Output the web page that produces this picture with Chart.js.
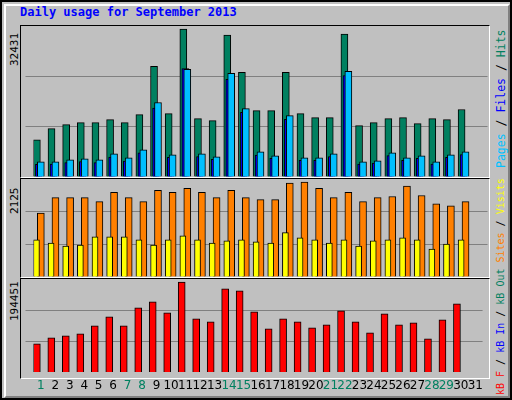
<!DOCTYPE html>
<html><head><meta charset="utf-8">
<script src="https://cdn.jsdelivr.net/npm/chart.js@4"></script>
<style>
body{margin:0;background:#fff;}
#frame{position:absolute;left:0;top:0;width:512px;height:400px;background:#c0c0c0;box-sizing:border-box;border:2px solid #000;}
#inner{position:absolute;left:2px;top:2px;width:506px;height:394px;border-top:2px solid #fff;border-left:2px solid #fff;border-right:2px solid #808080;border-bottom:2px solid #808080;box-sizing:border-box;}
.title{position:absolute;left:20px;top:5px;font:bold 12px "DejaVu Sans Mono",monospace;color:#0000ff;}
.box{position:absolute;left:20px;width:470px;border:1px solid #000;border-right-color:#fff;border-bottom-color:#fff;box-sizing:border-box;}
canvas{position:absolute;}
.rl{position:absolute;font:11px "DejaVu Sans Mono",monospace;white-space:nowrap;transform-origin:0 0;transform:rotate(-90deg);}
.yl{position:absolute;font:11px "DejaVu Sans Mono",monospace;color:#000;transform-origin:0 0;transform:rotate(-90deg);white-space:nowrap;}
</style></head><body>
<div id="frame"><div id="inner"></div></div>
<div class="title">Daily usage for September 2013</div>
<div class="box" style="top:25px;height:153px"></div>
<div class="box" style="top:178px;height:100px"></div>
<div class="box" style="top:278px;height:101px"></div>
<canvas id="c1" style="left:21px;top:26px"></canvas>
<canvas id="c2" style="left:21px;top:179px"></canvas>
<canvas id="c3" style="left:21px;top:279px"></canvas>
<div class="yl" style="left:8px;top:66px">32431</div>
<div class="yl" style="left:8px;top:214px">2125</div>
<div class="yl" style="left:8px;top:321px">194451</div>
<div class="rl" style="left:494px;top:168px;font-size:11.5px"><span style="color:#00c0ff">Pages</span> / <span style="color:#0000ff">Files</span> / <span style="color:#008060">Hits</span></div>
<div class="rl" style="left:495px;top:395px;font-size:10px"><span style="color:#ff0000">kB F</span> / <span style="color:#0000ff">kB In</span> / <span style="color:#008060">kB Out</span> <span style="color:#ff8000">Sites</span> / <span style="color:#ffff00">Visits</span></div>
<script>
const days = Array.from({length:31},(_, i)=>i+1);
const weekend = [1,7,8,14,15,21,22,28,29];
const hits  = [8000,10380,11240,11675,11675,12320,11675,13400,23780,13620,31780,12540,12110,30480,22480,14270,14270,22480,13620,12760,12760,30700,11030,11675,12540,12760,11460,12540,12320,14490,0];
const files = [2700,2800,3100,3300,3100,4300,3400,5200,14800,4200,23300,4400,3800,21000,13900,4700,4000,12400,3600,3600,4400,21800,2800,3000,4600,3600,4000,2800,4200,4800,0];
const pages = [3240,3240,3680,3890,3680,4970,4110,5840,16000,4760,23130,4970,4320,22270,14700,5400,4540,13190,4110,4110,4970,22700,3240,3460,5190,4110,4540,3240,4760,5400,0];
const sites = [1387,1722,1722,1722,1633,1834,1722,1633,1879,1834,1924,1834,1722,1879,1722,1678,1678,2036,2058,1924,1722,1834,1633,1722,1745,1969,1767,1588,1544,1633,0];
const visits= [805,738,671,693,872,872,872,805,693,805,895,805,738,783,805,760,738,962,850,805,738,805,671,783,805,850,805,604,716,805,0];
const kbytes= [60000,72400,76550,80700,97240,115860,97240,134480,146900,124140,188280,111720,105520,173800,169660,126210,91040,111720,105520,93100,99310,128280,105520,82760,122070,99310,103450,70350,109660,142760,0];
const maxHits = 32431, maxVisits = 2125, maxKB = 194451;

function pts(arr, off){ return arr.map((v,i)=>({x:days[i]+off, y:v})); }
function ds(arr, off, color, w, order){
  return {data:pts(arr,off), backgroundColor:color, borderColor:'#000', borderWidth:1, barThickness:w, order:order, grouped:false, borderSkipped:'bottom'};
}
function mk(id, w, h, datasets, max, showX){
  const c = document.getElementById(id);
  c.width = w; c.height = h; c.style.width = w+'px'; c.style.height = h+'px';
  new Chart(c, {
    type:'bar',
    data:{datasets},
    options:{
      responsive:false, animation:false, devicePixelRatio:1,
      layout:{padding:{left:4.5,right:1.5,top:0,bottom:0}},
      plugins:{legend:{display:false}, tooltip:{enabled:false}},
      scales:{
        x:{type:'linear', min:0.5, max:31.5, offset:false, display:showX,
           afterBuildTicks:(ax)=>{ ax.ticks = days.map(d=>({value:d})); },
           grid:{display:false, drawTicks:false}, border:{display:false},
           ticks:{autoSkip:false, maxRotation:0, padding:6,
             font:{family:'DejaVu Sans', size:12},
             callback:(v)=>String(v),
             color:(ctx)=>weekend.includes(ctx.tick.value)?'#008060':'#000'}},
        y:{min:0, max:max, grid:{color:(ctx)=>(ctx.tick.value>0&&ctx.tick.value<max)?'#808080':'rgba(0,0,0,0)', lineWidth:1},
           border:{display:false}, ticks:{display:false, stepSize:max/3}}
      }
    }
  });
}
mk('c1', 468, 151, [
  ds(pages, 0.0, '#00c0ff', 7, 0),
  ds(files, -0.13, '#0000ff', 7, 1),
  ds(hits, -0.27, '#008060', 7, 2)
], maxHits, false);
mk('c2', 468, 98, [
  ds(visits, -0.3, '#ffff00', 6, 0),
  ds(sites, 0.0, '#ff8000', 7, 1)
], maxVisits, false);
mk('c3', 468, 120, [
  ds(kbytes, -0.27, '#ff0000', 7, 0)
], maxKB, true);
</script>
</body></html>
